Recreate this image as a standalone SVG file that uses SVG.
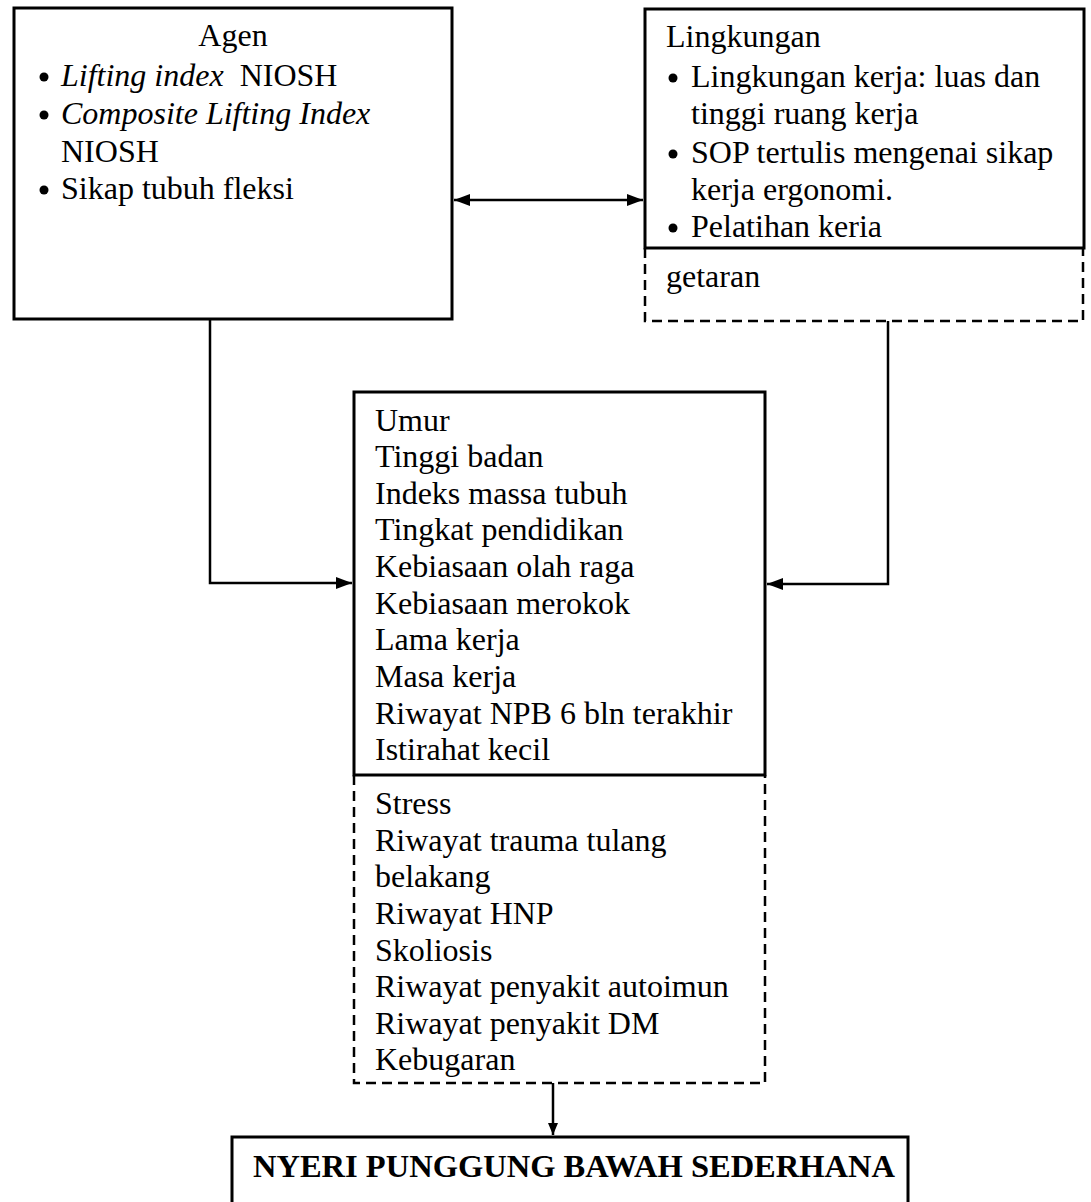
<svg xmlns="http://www.w3.org/2000/svg" width="1091" height="1202" viewBox="0 0 1091 1202">
<style>
.t{font-family:"Liberation Serif","Times New Roman",serif;font-size:32px;fill:#000}
.i{font-style:italic}
.b{font-weight:bold;font-size:32.5px}
.solid{fill:none;stroke:#000;stroke-width:3}
.dash{fill:none;stroke:#000;stroke-width:2.5;stroke-dasharray:10,6}
.line{fill:none;stroke:#000;stroke-width:2.5}
</style>
<defs>
<marker id="ah" viewBox="0 0 12 10" refX="12" refY="5" markerWidth="12" markerHeight="10" markerUnits="userSpaceOnUse" orient="auto-start-reverse">
<path d="M0,0 L12,5 L0,10 Z" fill="#000"/>
</marker>
<marker id="ahb" viewBox="0 0 16 12" refX="16" refY="6" markerWidth="16" markerHeight="12" markerUnits="userSpaceOnUse" orient="auto-start-reverse">
<path d="M0,0 L16,6 L0,12 Z" fill="#000"/>
</marker>
</defs>
<rect width="1091" height="1202" fill="#fff"/>

<g id="agen">
<rect class="solid" x="14" y="8" width="438" height="311"/>
<text class="t" x="233" y="46" text-anchor="middle">Agen</text>
<circle cx="44" cy="77" r="4.5"/>
<text class="t" x="61" y="86"><tspan class="i">Lifting index</tspan><tspan dx="16">NIOSH</tspan></text>
<circle cx="44" cy="115" r="4.5"/>
<text class="t i" x="61" y="124">Composite Lifting Index</text>
<text class="t" x="61" y="162">NIOSH</text>
<circle cx="44" cy="190" r="4.5"/>
<text class="t" x="61" y="199">Sikap tubuh fleksi</text>
</g>

<g id="lingkungan">
<rect class="solid" x="645" y="9" width="439" height="239"/>
<path class="dash" d="M645,248 V321 H1083 V248"/>
<text class="t" x="666" y="47">Lingkungan</text>
<circle cx="673" cy="78" r="4.5"/>
<text class="t" x="691" y="87">Lingkungan kerja: luas dan</text>
<text class="t" x="691" y="124">tinggi ruang kerja</text>
<circle cx="673" cy="154" r="4.5"/>
<text class="t" x="691" y="163">SOP tertulis mengenai sikap</text>
<text class="t" x="691" y="200">kerja ergonomi.</text>
<circle cx="673" cy="228" r="4.5"/>
<text class="t" x="691" y="237">Pelatihan keria</text>
<text class="t" x="666" y="287">getaran</text>
</g>

<g id="faktor">
<rect class="solid" x="354" y="392" width="411" height="383"/>
<path class="dash" d="M354,775 V1083 H765 V775"/>
<text class="t" x="375" y="431">Umur</text>
<text class="t" x="375" y="467">Tinggi badan</text>
<text class="t" x="375" y="504">Indeks massa tubuh</text>
<text class="t" x="375" y="540">Tingkat pendidikan</text>
<text class="t" x="375" y="577">Kebiasaan olah raga</text>
<text class="t" x="375" y="614">Kebiasaan merokok</text>
<text class="t" x="375" y="650">Lama kerja</text>
<text class="t" x="375" y="687">Masa kerja</text>
<text class="t" x="375" y="724">Riwayat NPB 6 bln terakhir</text>
<text class="t" x="375" y="760">Istirahat kecil</text>
<text class="t" x="375" y="814">Stress</text>
<text class="t" x="375" y="851">Riwayat trauma tulang</text>
<text class="t" x="375" y="887">belakang</text>
<text class="t" x="375" y="924">Riwayat HNP</text>
<text class="t" x="375" y="961">Skoliosis</text>
<text class="t" x="375" y="997">Riwayat penyakit autoimun</text>
<text class="t" x="375" y="1034">Riwayat penyakit DM</text>
<text class="t" x="375" y="1070">Kebugaran</text>
</g>

<g id="nyeri">
<rect class="solid" x="232" y="1137" width="676" height="80"/>
<text class="t b" x="253" y="1177">NYERI PUNGGUNG BAWAH SEDERHANA</text>
</g>

<g id="connectors">
<line class="line" x1="454" y1="200" x2="643" y2="200" marker-start="url(#ahb)" marker-end="url(#ahb)" stroke-width="3.5"/>
<path class="line" d="M210,319 V583 H352" marker-end="url(#ahb)"/>
<path class="line" d="M888,321 V584 H767" marker-end="url(#ahb)"/>
<line class="line" x1="553" y1="1083" x2="553" y2="1135" marker-end="url(#ah)"/>
</g>
</svg>
